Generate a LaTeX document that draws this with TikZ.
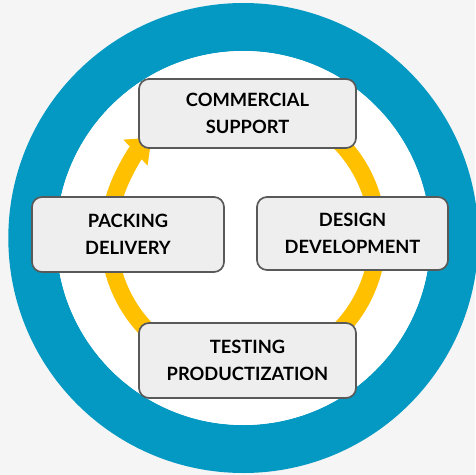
\documentclass[tikz,border=0pt]{standalone}
\usepackage{fontspec}
\setmainfont{Lato}
\usetikzlibrary{arrows.meta}
\definecolor{ringblue}{HTML}{0399C3}
\definecolor{loopgold}{HTML}{FFC000}
\definecolor{boxfill}{HTML}{EEEEEE}
\definecolor{boxline}{HTML}{595959}
\definecolor{backdrop}{HTML}{F5F5F5}
\tikzset{
  stage/.style={draw=boxline,fill=boxfill,line width=1.7pt,rounded corners=10pt,
    align=center,inner sep=0pt,font=\bfseries\fontsize{18.3}{26.5}\selectfont}
}
\begin{document}
\begin{tikzpicture}[x=1pt,y=1pt]
        %% Background
        \fill[backdrop] (-243.3,-237) rectangle (231.7,238);
        \useasboundingbox (-243.3,-237) rectangle (231.7,238);
        %% Ring
        \draw[ringblue,line width=48pt] (0,0) circle[radius=211];
        \fill[white] (0,0) circle[radius=187];
        %% Cycle
        \coordinate (hub) at (0,2);
        \draw[loopgold,line width=17pt,-{Triangle[width=34pt,length=22pt]}]
            ([shift={(70:134.5)}]hub) arc[start angle=70,end angle=-227,radius=134.5];
        %% Stages
        \node[stage,minimum width=217pt,minimum height=69pt] (support) at (4.2,124.5) {COMMERCIAL\\SUPPORT};
        \node[stage,minimum width=191pt,minimum height=73pt] (design) at (109.2,4.5) {DESIGN\\DEVELOPMENT};
        \node[stage,minimum width=217pt,minimum height=75pt] (testing) at (4.2,-122.5) {TESTING\\PRODUCTIZATION};
        \node[stage,minimum width=192pt,minimum height=75pt] (packing) at (-115.3,3.5) {PACKING\\DELIVERY};
    \end{tikzpicture}
\end{document}
